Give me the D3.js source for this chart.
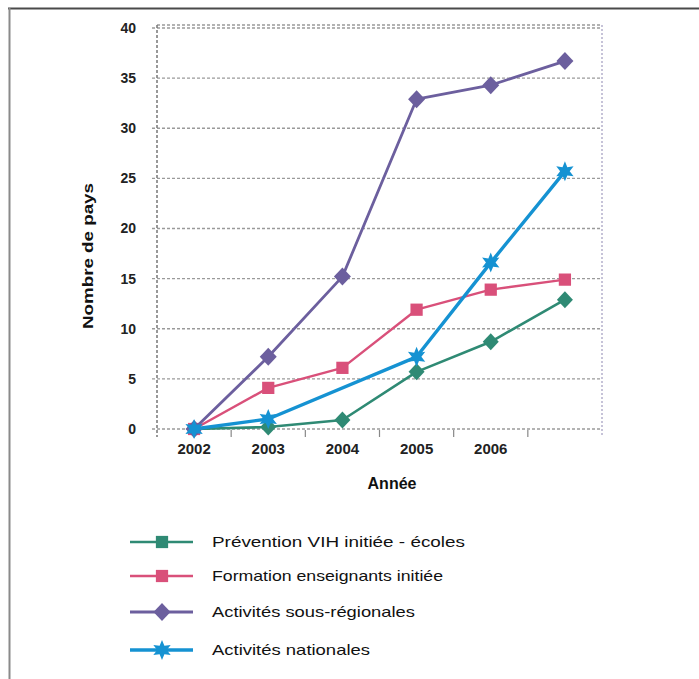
<!DOCTYPE html>
<html>
<head>
<meta charset="utf-8">
<script src="https://cdn.jsdelivr.net/npm/d3@7"></script>
<style>
  body { margin: 0; background: #fff; }
  svg { display: block; font-family: "Liberation Sans", Arial, sans-serif; }
</style>
</head>
<body>
<svg id="chart" width="699" height="679"></svg>
<script>
// Categories (the last slot carries no label)
const years = ["2002", "2003", "2004", "2005", "2006", ""];

// Number of countries per series
const preventionEcoles      = [0, 0.2, 0.9, 5.7, 8.7, 12.9];
const formationEnseignants  = [0, 4.1, 6.1, 11.9, 13.9, 14.9];
const activitesSousRegion   = [0, 7.2, 15.2, 32.9, 34.3, 36.7];
const activitesNationales   = [0, 1.0, null, 7.2, 16.6, 25.7];

const seriesNames = [
  "Prévention VIH initiée - écoles",
  "Formation enseignants initiée",
  "Activités sous-régionales",
  "Activités nationales"
];

const yTicks = [0, 5, 10, 15, 20, 25, 30, 35, 40];

const series = [
  { name: seriesNames[0], values: preventionEcoles,     color: "#2f8a74", width: 2.6, marker: "diamondS", legendMarker: "square",  legendLen: 253 },
  { name: seriesNames[1], values: formationEnseignants, color: "#d9507a", width: 2.4, marker: "square",   legendMarker: "square",  legendLen: 231 },
  { name: seriesNames[2], values: activitesSousRegion,  color: "#6c5f9e", width: 2.8, marker: "diamond",  legendMarker: "diamond", legendLen: 203 },
  { name: seriesNames[3], values: activitesNationales,  color: "#1592d2", width: 3.4, marker: "star",     legendMarker: "star",    legendLen: 158 }
];

const svg = d3.select("#chart");

// Outer frame (top and left edges)
svg.append("line").attr("x1", 8).attr("x2", 699).attr("y1", 8.5).attr("y2", 8.5)
  .attr("stroke", "#4a4a4a").attr("stroke-width", 2);
svg.append("line").attr("x1", 9.5).attr("x2", 9.5).attr("y1", 8).attr("y2", 679)
  .attr("stroke", "#8a8a8a").attr("stroke-width", 2);

const plot = { left: 157, right: 602, top: 25, bottom: 437 };

const x = d3.scaleBand().domain(d3.range(years.length)).range([plot.left, plot.right]);
const y = d3.scaleLinear().domain([0, 40]).range([429, 28]);

const gridColor = "#9a9a9a";
const dash = "3,2";

// Horizontal gridlines
svg.append("g").selectAll("line").data(yTicks).join("line")
  .attr("x1", plot.left - 5).attr("x2", plot.right)
  .attr("y1", d => y(d)).attr("y2", d => y(d))
  .attr("stroke", gridColor).attr("stroke-width", 1.3).attr("stroke-dasharray", dash);

// Plot top border and right border
svg.append("line").attr("x1", plot.left).attr("x2", plot.right)
  .attr("y1", plot.top).attr("y2", plot.top)
  .attr("stroke", gridColor).attr("stroke-width", 1.3).attr("stroke-dasharray", dash);
svg.append("line").attr("x1", plot.right).attr("x2", plot.right)
  .attr("y1", plot.top).attr("y2", plot.bottom)
  .attr("stroke", "#a8a4c4").attr("stroke-width", 1.3).attr("stroke-dasharray", "2,2");

// Value axis
const yAxis = d3.axisLeft(y).tickValues(yTicks).tickSize(0).tickPadding(21);
const gy = svg.append("g").attr("transform", `translate(${plot.left},0)`).call(yAxis);
gy.select(".domain").remove();
gy.selectAll("text").attr("font-size", 14).attr("font-weight", "bold").attr("fill", "#222");
svg.append("line").attr("x1", plot.left).attr("x2", plot.left)
  .attr("y1", plot.top).attr("y2", plot.bottom)
  .attr("stroke", "#777").attr("stroke-width", 1.5).attr("stroke-dasharray", dash);

// Category axis: boundary ticks and labels
const bounds = d3.range(1, years.length).map(i => plot.left + i * x.step());
svg.append("g").selectAll("line").data(bounds).join("line")
  .attr("x1", d => d).attr("x2", d => d)
  .attr("y1", 430).attr("y2", plot.bottom)
  .attr("stroke", "#888").attr("stroke-width", 1.2);

const xAxis = d3.axisBottom(x).tickFormat(i => years[i]).tickSize(0).tickPadding(0);
const gx = svg.append("g").attr("transform", "translate(0,443)").call(xAxis);
gx.select(".domain").remove();
gx.selectAll("text").attr("font-size", 15).attr("font-weight", "bold").attr("fill", "#222")
  .attr("dy", "0.71em");

// Axis titles
svg.append("text").attr("x", 392).attr("y", 489).attr("text-anchor", "middle")
  .attr("font-size", 16).attr("font-weight", "bold").attr("fill", "#111").text("Année");
svg.append("text").attr("transform", "translate(93,256) rotate(-90)")
  .attr("text-anchor", "middle").attr("font-size", 15).attr("font-weight", "bold")
  .attr("fill", "#111").attr("textLength", 146).attr("lengthAdjust", "spacingAndGlyphs")
  .text("Nombre de pays");

// Marker shapes
function starPath(outer, inner, points) {
  const pts = [];
  for (let i = 0; i < points * 2; i++) {
    const r = i % 2 === 0 ? outer : inner;
    const a = Math.PI * i / points - Math.PI / 2;
    pts.push([r * Math.cos(a), r * Math.sin(a)]);
  }
  return "M" + pts.map(p => p.join(",")).join("L") + "Z";
}
function diamondPath(w, h) {
  return `M0,${-h}L${w},0L0,${h}L${-w},0Z`;
}
function markerPath(kind) {
  if (kind === "star") return starPath(10, 4.8, 6);
  if (kind === "square") return d3.symbol(d3.symbolSquare, 150)();
  if (kind === "diamondS") return diamondPath(8, 8.5);
  return diamondPath(8.5, 9);
}

const cx = i => x(i) + x.bandwidth() / 2;
const line = d3.line().x(d => cx(d.i)).y(d => y(d.v));

const gSeries = svg.append("g");
series.forEach(s => {
  const pts = s.values.map((v, i) => ({ i, v })).filter(d => d.v !== null);
  gSeries.append("path")
    .datum(pts)
    .attr("fill", "none").attr("stroke", s.color)
    .attr("stroke-width", s.width).attr("stroke-linejoin", "round")
    .attr("d", line);
  gSeries.append("g").selectAll("path").data(pts).join("path")
    .attr("transform", d => `translate(${cx(d.i)},${y(d.v)})`)
    .attr("d", markerPath(s.marker))
    .attr("fill", s.color);
});

// Legend
const legendY = [542, 576, 612, 650];
const legend = svg.append("g");
series.forEach((s, k) => {
  const g = legend.append("g").attr("transform", `translate(0,${legendY[k]})`);
  g.append("line").attr("x1", 130).attr("x2", 193).attr("y1", 0).attr("y2", 0)
    .attr("stroke", s.color).attr("stroke-width", s.width);
  g.append("path").attr("transform", "translate(162,0)")
    .attr("d", markerPath(s.legendMarker)).attr("fill", s.color);
  g.append("text").attr("x", 212).attr("y", 0).attr("dy", "0.35em")
    .attr("font-size", 15).attr("fill", "#111")
    .attr("textLength", s.legendLen).attr("lengthAdjust", "spacingAndGlyphs")
    .text(s.name);
});
</script>
</body>
</html>
